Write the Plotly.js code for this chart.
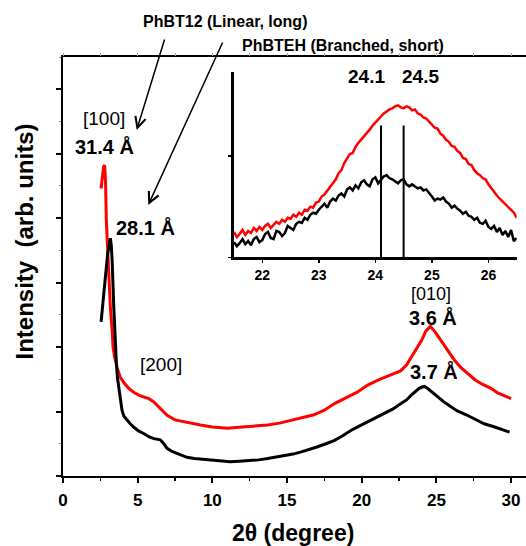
<!DOCTYPE html>
<html>
<head>
<meta charset="utf-8">
<script src="https://cdn.plot.ly/plotly-3.0.1.min.js"></script>
<style>html,body{margin:0;padding:0;background:#fff;}#chart{width:526px;height:546px;}</style>
</head>
<body>
<div id="chart"></div>
<script>
// ---- Main pattern data (2θ in degrees, intensity in arbitrary units) ----
var blackX = [2.55, 2.66, 2.84, 2.99, 3.08, 3.17, 3.23, 3.29, 3.40, 3.51, 3.58, 3.66, 3.75, 3.84, 3.95, 4.07, 4.28, 4.50, 4.73, 5.05, 5.40, 5.75, 6.08, 6.30, 6.52, 6.75, 6.97, 7.30, 7.63, 8.30, 8.80, 9.20, 9.80, 10.30, 10.80, 11.20, 11.80, 12.50, 13.10, 13.70, 14.20, 14.80, 15.40, 15.90, 16.50, 17.00, 17.60, 18.15, 18.70, 19.30, 19.80, 20.40, 21.00, 21.50, 22.10, 22.60, 23.00, 23.30, 23.60, 23.85, 24.05, 24.20, 24.40, 24.60, 24.86, 25.20, 25.50, 26.00, 26.40, 27.00, 27.50, 28.20, 28.90, 29.40, 29.90];
var blackY = [2.39, 2.62, 3.09, 3.45, 3.60, 3.69, 3.58, 3.35, 2.62, 2.00, 1.72, 1.50, 1.32, 1.18, 1.02, 0.93, 0.87, 0.81, 0.76, 0.70, 0.66, 0.61, 0.58, 0.57, 0.56, 0.50, 0.43, 0.38, 0.35, 0.29, 0.27, 0.26, 0.25, 0.24, 0.23, 0.22, 0.23, 0.24, 0.25, 0.27, 0.29, 0.31, 0.34, 0.37, 0.41, 0.45, 0.50, 0.55, 0.62, 0.71, 0.77, 0.84, 0.91, 0.97, 1.04, 1.12, 1.18, 1.25, 1.31, 1.36, 1.38, 1.39, 1.36, 1.32, 1.28, 1.21, 1.15, 1.07, 1.01, 0.95, 0.89, 0.81, 0.76, 0.72, 0.68];

var redX = [2.55, 2.62, 2.72, 2.79, 2.85, 2.90, 2.98, 3.06, 3.17, 3.29, 3.35, 3.45, 3.62, 3.84, 4.07, 4.40, 4.73, 5.10, 5.40, 5.75, 6.08, 6.50, 6.97, 7.50, 8.09, 8.60, 9.20, 10.00, 11.00, 12.00, 13.00, 13.70, 14.50, 15.20, 15.90, 16.80, 17.50, 18.15, 19.00, 19.70, 20.40, 21.20, 21.95, 22.60, 23.00, 23.50, 24.00, 24.30, 24.60, 24.90, 25.30, 25.75, 26.20, 26.65, 27.10, 27.60, 28.10, 28.66, 29.10, 29.60, 30.00];
var redY = [4.46, 4.65, 4.80, 4.82, 4.55, 3.97, 3.55, 3.19, 2.62, 2.26, 2.00, 1.85, 1.68, 1.53, 1.45, 1.36, 1.30, 1.25, 1.23, 1.20, 1.15, 1.05, 0.94, 0.87, 0.84, 0.81, 0.79, 0.76, 0.74, 0.76, 0.78, 0.79, 0.82, 0.86, 0.89, 0.95, 1.02, 1.12, 1.22, 1.30, 1.41, 1.50, 1.57, 1.63, 1.72, 1.92, 2.10, 2.25, 2.32, 2.24, 2.10, 1.95, 1.80, 1.68, 1.59, 1.49, 1.42, 1.36, 1.29, 1.24, 1.20];

// ---- Inset (zoom on the [010] peak) ----
var insetX = [21.50,21.55,21.60,21.65,21.70,21.75,21.80,21.85,21.90,21.95,
              22.00,22.05,22.10,22.15,22.20,22.25,22.30,22.35,22.40,22.45,
              22.50,22.55,22.60,22.65,22.70,22.75,22.80,22.85,22.90,22.95,
              23.00,23.05,23.10,23.15,23.20,23.25,23.30,23.35,23.40,23.45,
              23.50,23.55,23.60,23.65,23.70,23.75,23.80,23.85,23.90,23.95,
              24.00,24.05,24.10,24.15,24.20,24.25,24.30,24.35,24.40,24.45,
              24.50,24.55,24.60,24.65,24.70,24.75,24.80,24.85,24.90,24.95,
              25.00,25.05,25.10,25.15,25.20,25.25,25.30,25.35,25.40,25.45,
              25.50,25.55,25.60,25.65,25.70,25.75,25.80,25.85,25.90,25.95,
              26.00,26.05,26.10,26.15,26.20,26.25,26.30,26.35,26.40,26.45,26.50];
var insetRed = [0.25,0.20,0.23,0.27,0.22,0.26,0.24,0.29,0.26,0.30,
                0.27,0.31,0.33,0.29,0.32,0.35,0.33,0.37,0.35,0.39,
                0.38,0.42,0.40,0.44,0.42,0.47,0.46,0.50,0.49,0.54,
                0.55,0.60,0.62,0.66,0.69,0.74,0.77,0.83,0.86,0.93,
                0.97,1.02,1.03,1.09,1.13,1.16,1.20,1.23,1.26,1.30,
                1.33,1.37,1.40,1.42,1.44,1.46,1.47,1.49,1.50,1.48,
                1.47,1.49,1.48,1.45,1.46,1.42,1.41,1.38,1.37,1.34,
                1.32,1.28,1.27,1.22,1.20,1.16,1.14,1.10,1.09,1.05,
                1.03,0.98,0.97,0.92,0.91,0.86,0.83,0.81,0.78,0.77,
                0.72,0.68,0.64,0.61,0.58,0.55,0.52,0.50,0.46,0.44,0.39];
var insetBlack = [0.15,0.11,0.14,0.18,0.13,0.16,0.12,0.18,0.20,0.15,
                  0.17,0.23,0.25,0.19,0.18,0.26,0.25,0.21,0.24,0.31,
                  0.29,0.27,0.33,0.35,0.34,0.39,0.37,0.42,0.44,0.43,
                  0.47,0.50,0.53,0.49,0.55,0.58,0.56,0.61,0.63,0.60,
                  0.67,0.69,0.66,0.71,0.68,0.74,0.76,0.72,0.70,0.77,
                  0.79,0.73,0.76,0.80,0.81,0.78,0.77,0.75,0.73,0.76,
                  0.77,0.72,0.70,0.72,0.70,0.68,0.69,0.66,0.67,0.64,
                  0.60,0.56,0.58,0.57,0.59,0.55,0.53,0.49,0.51,0.48,
                  0.46,0.43,0.45,0.41,0.40,0.37,0.39,0.34,0.33,0.36,
                  0.30,0.28,0.31,0.25,0.29,0.22,0.26,0.20,0.27,0.16,0.19];
var insetPeaks = [24.1, 24.5];
var insetPeakTop = 1.30;

var xTicks = [0, 5, 10, 15, 20, 25, 30];
var insetTicks = [22, 23, 24, 25, 26];

// ---- layout helpers ----
var W = 526, H = 546, ML = 63, MR = 0, MT = 57, MB = 70;
var PW = W - ML - MR, PH = H - MT - MB;
function px(x){ return (x - ML) / PW; }
function py(y){ return (H - MB - y) / PH; }
var FAM = 'Liberation Sans, Arial, sans-serif';
function bold(s){ return {family: FAM, size: s, color: '#000', weight: 'bold'}; }
function reg(s){ return {family: FAM, size: s, color: '#000'}; }
function label(text, x, y, font){
  return {text: text, xref: 'paper', yref: 'paper', x: px(x), y: py(y), xanchor: 'center', yanchor: 'middle', showarrow: false, font: font};
}
function arrow(hx, hy, tx, ty){
  return {text: '', xref: 'paper', yref: 'paper', x: px(hx), y: py(hy), ax: tx - hx, ay: ty - hy,
          showarrow: true, arrowhead: 5, arrowsize: 1.4, arrowwidth: 1.5, arrowcolor: '#000', standoff: 0, startstandoff: 0};
}

var traces = [
  {x: redX, y: redY, type: 'scatter', mode: 'lines', line: {color: '#ff0000', width: 3}, xaxis: 'x', yaxis: 'y', name: 'PhBT12'},
  {x: blackX, y: blackY, type: 'scatter', mode: 'lines', line: {color: '#000000', width: 3}, xaxis: 'x', yaxis: 'y', name: 'PhBTEH'},
  {x: insetX, y: insetRed, type: 'scatter', mode: 'lines', line: {color: '#ff0000', width: 2.5}, xaxis: 'x2', yaxis: 'y2', name: 'PhBT12 inset'},
  {x: insetX, y: insetBlack, type: 'scatter', mode: 'lines', line: {color: '#000000', width: 2.5}, xaxis: 'x2', yaxis: 'y2', name: 'PhBTEH inset'},
  {x: [0, 31], y: [null, null], type: 'scatter', mode: 'lines', xaxis: 'x3', yaxis: 'y', showlegend: false, hoverinfo: 'skip'}
];

var shapes = insetPeaks.map(function(p){
  return {type: 'line', xref: 'x2', yref: 'y2', x0: p, x1: p, y0: 0, y1: insetPeakTop, line: {color: '#000', width: 2}};
});

var annotations = [
  label('PhBT12 (Linear, long)', 224.5, 21.5, bold(16)),
  label('PhBTEH (Branched, short)', 343, 45, bold(16)),
  arrow(136.7, 130, 165, 38),
  arrow(148.3, 205, 223.3, 41),
  label('[100]', 103.5, 118, reg(19)),
  label('31.4 Å', 104, 146, bold(20)),
  label('28.1 Å', 145, 227, bold(20)),
  label('[200]', 160.5, 364, reg(19)),
  label('[010]', 430.5, 294, reg(18)),
  label('3.6 Å', 433, 317, bold(20)),
  label('3.7 Å', 434, 371, bold(20)),
  label(insetPeaks[0].toFixed(1), 366.7, 76, bold(19)),
  label(insetPeaks[1].toFixed(1), 420.3, 76, bold(19)),
  {text: 'Intensity  (arb. units)', xref: 'paper', yref: 'paper', x: px(24), y: py(241.5), xanchor: 'center', yanchor: 'middle', textangle: -90, showarrow: false, font: bold(24)},
  label('2θ (degree)', 293.3, 532.5, bold(23))
];

var layout = {
  width: W, height: H,
  margin: {l: ML, r: MR, t: MT, b: MB, pad: 0},
  paper_bgcolor: '#fff', plot_bgcolor: 'rgba(0,0,0,0)',
  showlegend: false,
  font: {family: FAM, color: '#000'},
  xaxis: {
    domain: [0, 1], range: [0, 31.0], anchor: 'y',
    tickmode: 'array', tickvals: xTicks, ticktext: xTicks.map(String),
    ticks: 'outside', ticklen: 5, tickwidth: 2, tickcolor: '#000',
    minor: {dtick: 2.5, tick0: 0, ticks: 'outside', ticklen: 3, tickwidth: 1.5, tickcolor: '#000'},
    showline: true, linewidth: 2, linecolor: '#000', mirror: true,
    showgrid: false, zeroline: false,
    tickfont: bold(17), ticklabelstandoff: 3
  },
  xaxis3: {
    overlaying: 'x', side: 'top', anchor: 'y', range: [0, 31.0],
    tickmode: 'linear', tick0: 0, dtick: 2.5, ticks: 'outside', ticklen: 3, tickwidth: 1, tickcolor: '#aaa',
    showticklabels: false, showline: false, showgrid: false, zeroline: false
  },
  yaxis: {
    domain: [0, 1], range: [0, 6.5], anchor: 'x',
    tickmode: 'linear', tick0: 0, dtick: 1,
    ticks: 'outside', ticklen: 5, tickwidth: 2, tickcolor: '#000',
    minor: {dtick: 0.5, tick0: 0, ticks: 'outside', ticklen: 2, tickwidth: 1, tickcolor: '#888'},
    showticklabels: false,
    showline: true, linewidth: 2, linecolor: '#000',
    showgrid: false, zeroline: false
  },
  xaxis2: {
    domain: [px(234), px(516.7)], range: [21.5, 26.5], anchor: 'y2',
    tickmode: 'array', tickvals: insetTicks, ticktext: insetTicks.map(String),
    ticks: 'outside', ticklen: 3, tickwidth: 1.5, tickcolor: '#000',
    showline: true, linewidth: 2.5, linecolor: '#000',
    showgrid: false, zeroline: false,
    tickfont: bold(14), ticklabelstandoff: 0
  },
  yaxis2: {
    domain: [py(257.3), py(71.7)], range: [0, 1.832], anchor: 'x2',
    tickmode: 'linear', tick0: 0, dtick: 1,
    ticks: 'outside', ticklen: 3, tickwidth: 1.5, tickcolor: '#000',
    showticklabels: false,
    showline: true, linewidth: 3, linecolor: '#000',
    showgrid: false, zeroline: false
  },
  shapes: shapes,
  annotations: annotations
};

Plotly.newPlot('chart', traces, layout, {staticPlot: true, displayModeBar: false});
</script>
</body>
</html>
